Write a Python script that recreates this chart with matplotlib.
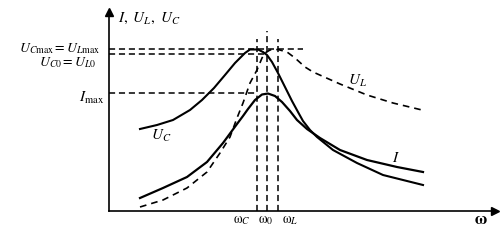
import matplotlib
matplotlib.use("Agg")
import matplotlib.pyplot as plt

plt.rcParams['mathtext.fontset'] = 'stix'
plt.rcParams['font.family'] = ['Liberation Serif', 'DejaVu Serif']

# ---- data (arbitrary units) ----
uc_x = [31, 48, 64, 81, 93, 105, 116, 126, 136, 141, 149, 154, 158, 163, 169, 176, 183,
        189, 194, 201, 208, 224, 248, 274, 314]
uc_y = [82, 86, 91, 101, 111, 123, 136, 148, 158, 161.5, 161.5, 159, 156, 149, 138, 124, 110,
        99, 90, 81, 74, 61, 48, 36, 26]

i_x = [31, 54, 78, 98, 114, 128, 134, 139, 146, 153, 159, 166, 173, 181, 188, 198, 211,
       231, 258, 288, 314]
i_y = [13, 23, 34, 49, 68, 87, 95, 102, 111, 116.5, 117.5, 115, 109, 100, 91, 82, 73,
       61, 51, 44, 39]

ul_x = [31, 54, 78, 98, 111, 121, 128, 134, 141, 148, 153, 156, 161, 169, 178, 186, 196,
        204, 231, 258, 284, 313]
ul_y = [4, 11, 23, 39, 58, 74, 93, 108, 128, 141, 153, 158, 161, 161.5, 159, 153, 144,
        139, 127, 116, 108, 101]

w_c, w_0, w_l = 148, 158, 169
uc_max = 161.5
uc_0 = 157
i_max = 117.5

fig = plt.figure(figsize=(5.04, 2.43), dpi=100)
ax = fig.add_axes([109/504, 32/243, 386/504, 199/243])
ax.set_xlim(0, 386)
ax.set_ylim(0, 199)
for s in ['top', 'right']:
    ax.spines[s].set_visible(False)
for s in ['left', 'bottom']:
    ax.spines[s].set_linewidth(1.2)
ax.set_xticks([])
ax.set_yticks([])
ax.patch.set_alpha(0)

# arrow heads
ax.plot(1, 0, marker='>', color='k', ms=6, transform=ax.transAxes, clip_on=False)
ax.plot(0, 1, marker='^', color='k', ms=6, transform=ax.transAxes, clip_on=False)

dash = (0, (4, 2.5))
# reference lines
ax.plot([0, 194], [uc_max, uc_max], color='k', lw=1.1, ls=dash)
ax.plot([0, w_0], [uc_0, uc_0], color='k', lw=1.1, ls=dash)
ax.plot([0, w_c], [i_max, i_max], color='k', lw=1.1, ls=dash)
ax.plot([w_c, w_c], [0, 172], color='k', lw=1.1, ls=dash)
ax.plot([w_0, w_0], [0, 180], color='k', lw=1.1, ls=dash)
ax.plot([w_l, w_l], [0, 172], color='k', lw=1.1, ls=dash)

# curves
ax.plot(uc_x, uc_y, color='k', lw=1.5, solid_joinstyle='round')
ax.plot(i_x, i_y, color='k', lw=1.6, solid_joinstyle='round')
ax.plot(ul_x, ul_y, color='k', lw=1.2, ls=(0, (4, 3)))

fs = 11
kw = dict(clip_on=False, fontsize=fs)
ax.text(-9, 159, r'$U_{C\mathrm{max}} = U_{L\mathrm{max}}$', ha='right', va='baseline',
        clip_on=False, fontsize=10)
ax.text(-12, 145, r'$U_{C0} = U_{L0}$', ha='right', va='baseline', clip_on=False, fontsize=10)
ax.text(-5, 113, r'$I_{\mathrm{max}}$', ha='right', va='center', **kw)
ax.text(9, 193, r'$I,\ U_L,\ U_C$', ha='left', va='center', **kw)
ax.text(52, 75, r'$U_C$', ha='center', va='center', **kw)
ax.text(248, 130, r'$U_L$', ha='center', va='center', **kw)
ax.text(287, 53, r'$I$', ha='center', va='center', **kw)
ax.text(133, -9, r'$\mathrm{\omega}_C$', ha='center', va='center', clip_on=False, fontsize=10)
ax.text(157, -9, r'$\mathrm{\omega}_0$', ha='center', va='center', clip_on=False, fontsize=10)
ax.text(181, -9, r'$\mathrm{\omega}_L$', ha='center', va='center', clip_on=False, fontsize=10)
ax.text(372, -9, r'$\mathbf{\omega}$', ha='center', va='center', clip_on=False, fontsize=12)

fig.savefig('out.png', dpi=100)
